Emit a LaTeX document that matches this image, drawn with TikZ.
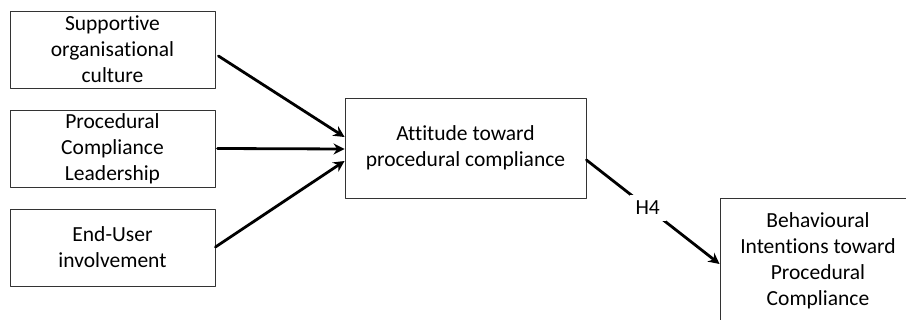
\documentclass[tikz,border=0pt]{standalone}
\usepackage{fontspec}
\setmainfont{Carlito}[Ligatures=NoCommon]
\usetikzlibrary{arrows.meta, positioning}

\begin{document}
\begin{tikzpicture}[x=1pt, y=-1pt, >=Stealth, line cap=round, line join=round]
	
	\def\bw{205}
	\def\bh{77}
	
	\tikzset{
		factor/.style={draw=black!80, line width=0.9pt, minimum width=\bw pt, minimum height=\bh pt,
			align=center, inner sep=0pt, font=\fontsize{21.5}{26}\selectfont},
		link/.style={line width=2.8pt, -{Stealth[length=11pt, width=11pt]}},
		hyp/.style={fill=white, inner sep=6pt, font=\fontsize{21.5}{26}\selectfont}
	}
	
	\useasboundingbox (0,0) rectangle (906,320);
	\clip (0,0) rectangle (906,320);
	
	% antecedents
	\node[factor] (sup) at (112.5,49.5)  {Supportive\\organisational\\culture};
	\node[factor] (lead) at (112.5,148.5) {Procedural\\Compliance\\Leadership};
	\node[factor] (user) at (112.5,247.5) {End-User\\involvement};
	
	% attitude and intentions
	\node[factor, minimum width=241pt, minimum height=100pt] (att) at (465.5,148) {Attitude toward\\procedural compliance};
	\node[factor, minimum width=196pt, minimum height=126pt] (beh) at (818,261) {Behavioural\\Intentions toward\\Procedural\\Compliance};
	
	\draw[link] ([xshift=3pt, yshift=-6.5pt]sup.east) -- ([yshift=11pt]att.west);
	\draw[link] ([xshift=2pt]lead.east) -- ([yshift=-1pt]att.west);
	\draw[link] ([yshift=0.5pt]user.east) -- ([yshift=-13pt]att.west);
	
	\draw[link] ([yshift=-12pt]att.east) -- ([yshift=-3pt]beh.west) node[hyp, pos=0.46] (h4) {H4};
	
\end{tikzpicture}
\end{document}
